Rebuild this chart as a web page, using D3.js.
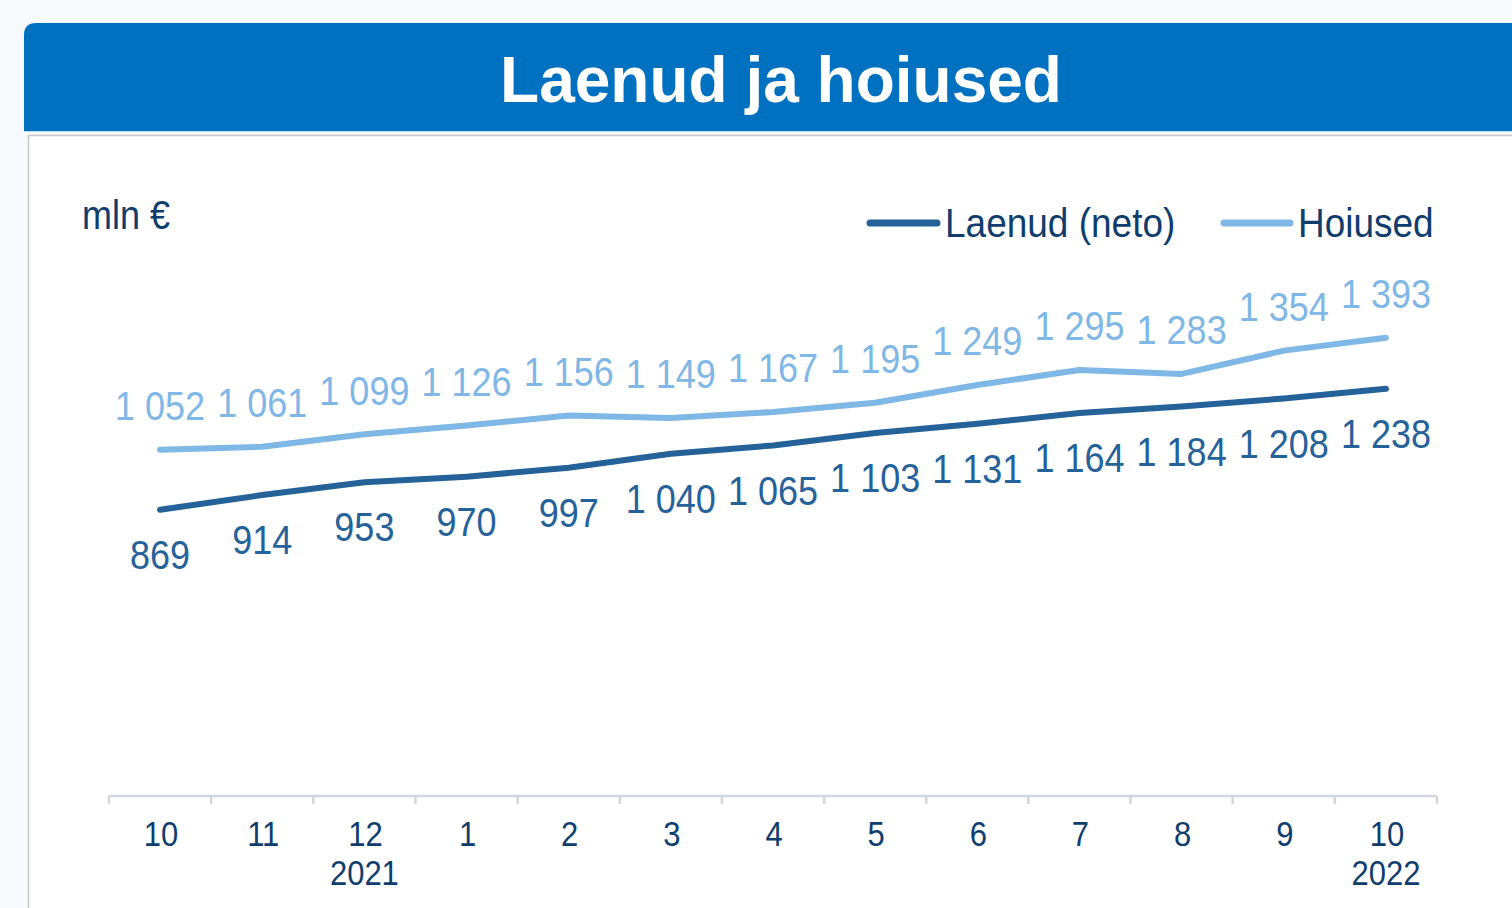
<!DOCTYPE html>
<html><head><meta charset="utf-8">
<script src="https://cdn.jsdelivr.net/npm/d3@7"></script>
<style>
html,body{margin:0;padding:0;background:#f8f9fc;overflow:hidden;}
svg{display:block;font-family:"Liberation Sans",Arial,sans-serif;}
</style></head>
<body>
<script>
const months = ["10","11","12","1","2","3","4","5","6","7","8","9","10"];
const years = ["","","2021","","","","","","","","","","2022"];
const laenud = [869,914,953,970,997,1040,1065,1103,1131,1164,1184,1208,1238];
const hoiused = [1052,1061,1099,1126,1156,1149,1167,1195,1249,1295,1283,1354,1393];
const seriesNames = ["Laenud (neto)","Hoiused"];
const title = "Laenud ja hoiused";
const unit = "mln €";

const W = 1512, H = 908;
const cDark = "#26629a", cLight = "#7fb7e6", cText = "#0f3d6e";
const svg = d3.select("body").append("svg").attr("width", W).attr("height", H);

// background panels
svg.append("rect").attr("x",0).attr("y",0).attr("width",W).attr("height",H).attr("fill","#f8f9fc");
svg.append("rect").attr("x",28.5).attr("y",135.5).attr("width",W).attr("height",H).attr("fill","#ffffff").attr("stroke","#c6c6c6").attr("stroke-width",1.5);
svg.append("path").attr("d","M24,131 L24,35 Q24,23 36,23 L1512,23 L1512,131 Z").attr("fill","#0070c0");
svg.append("line").attr("x1",24).attr("x2",W).attr("y1",131.5).attr("y2",131.5).attr("stroke","#bcd8ee").attr("stroke-width",1);
svg.append("text").attr("x",781).attr("y",102).attr("text-anchor","middle").attr("fill","#fff")
  .attr("font-weight","bold").attr("font-size",64).text(title);

const SY = 1.12;
function stext(g, x, y, txt, size, color, anchor, baseline){
  return g.append("text").attr("transform",`translate(${x},${y}) scale(1,${SY})`)
    .attr("text-anchor",anchor||"middle").attr("dominant-baseline",baseline||"central")
    .attr("font-size",size).attr("fill",color).text(txt);
}

const x = d3.scaleBand().domain(d3.range(months.length)).range([109,1437]).paddingInner(0).paddingOuter(0);
const y = d3.scaleLinear().domain([0,1400]).range([795, 795-1400*0.3282]);

// axis
const axisG = svg.append("g");
axisG.append("line").attr("x1",109).attr("x2",1437).attr("y1",796).attr("y2",796).attr("stroke","#d3d6da").attr("stroke-width",2.5);
const bounds = d3.range(months.length+1).map(i => i < months.length ? x(i) : x(months.length-1)+x.bandwidth());
axisG.selectAll("line.tk").data(bounds).join("line").attr("class","tk")
  .attr("x1",d=>d).attr("x2",d=>d).attr("y1",796).attr("y2",804).attr("stroke","#d3d6da").attr("stroke-width",2.5);
months.forEach((m,i)=>{
  stext(axisG, x(i)+x.bandwidth()/2+1, 834, m, 31, cText);
  if (years[i]) stext(axisG, x(i)+x.bandwidth()/2, 873, years[i], 31, cText);
});

const fmt = d3.formatLocale({decimal:",", thousands:"\u00a0", grouping:[3], currency:["","€"]}).format(",d");

const line = d3.line().x((d,i)=>x(i)+x.bandwidth()/2).y(d=>y(d));
svg.append("path").datum(hoiused).attr("d",line).attr("fill","none").attr("stroke",cLight).attr("stroke-width",6).attr("stroke-linecap","round").attr("stroke-linejoin","round");
svg.append("path").datum(laenud).attr("d",line).attr("fill","none").attr("stroke",cDark).attr("stroke-width",6).attr("stroke-linecap","round").attr("stroke-linejoin","round");

const lg = svg.append("g");
hoiused.forEach((v,i)=> stext(lg, x(i)+x.bandwidth()/2, y(v)-44, fmt(v), 36, cLight));
laenud.forEach((v,i)=> stext(lg, x(i)+x.bandwidth()/2, y(v)+45, fmt(v), 36, cDark));

// unit
stext(svg, 82, 215, unit, 36, cText, "start");

// legend
const leg = svg.append("g");
[[870,937,945,cDark,seriesNames[0]],[1224,1290,1298,cLight,seriesNames[1]]].forEach(([a,b,t,c,n])=>{
  leg.append("line").attr("x1",a).attr("x2",b).attr("y1",223).attr("y2",223).attr("stroke",c).attr("stroke-width",7).attr("stroke-linecap","round");
  stext(leg, t, 222, n, 37, cText, "start");
});
</script>
</body></html>
